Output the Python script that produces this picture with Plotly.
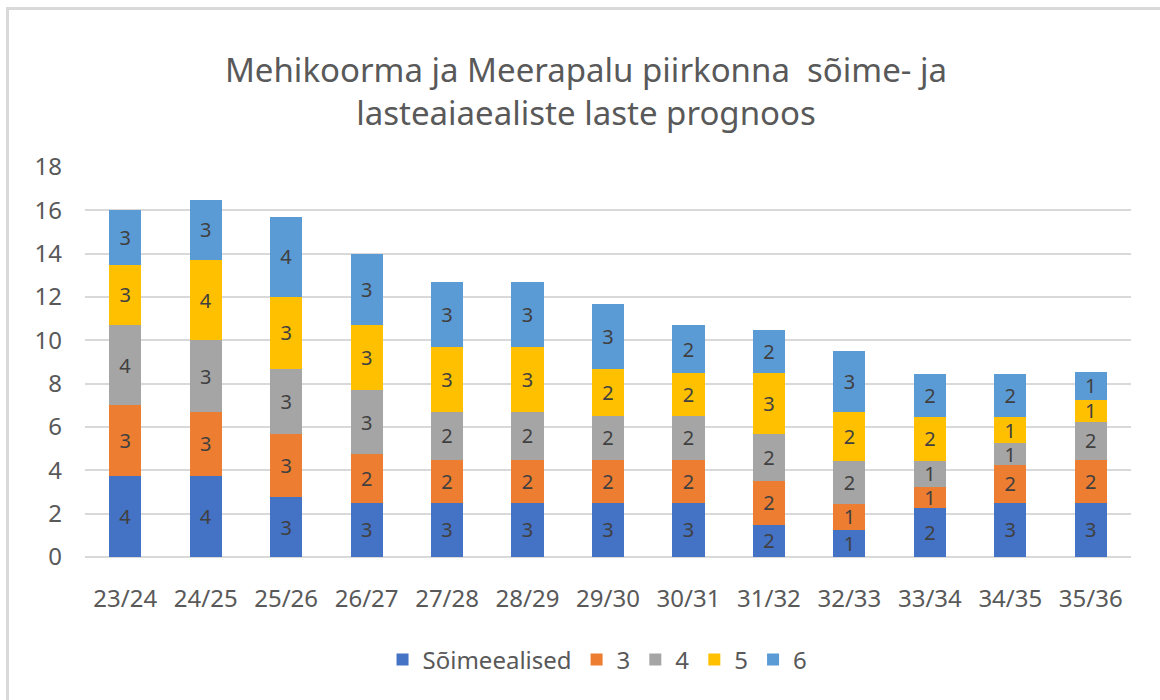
import plotly.graph_objects as go

categories = ["23/24", "24/25", "25/26", "26/27", "27/28", "28/29", "29/30",
              "30/31", "31/32", "32/33", "33/34", "34/35", "35/36"]
series_names = ["Sõimeealised", "3", "4", "5", "6"]
soimeealised = [3.75, 3.75, 2.75, 2.5, 2.5, 2.5, 2.5, 2.5, 1.5, 1.25, 2.25, 2.5, 2.5]
age3 = [3.25, 2.95, 2.95, 2.25, 2.0, 2.0, 2.0, 2.0, 2.0, 1.2, 1.0, 1.75, 2.0]
age4 = [3.7, 3.3, 3.0, 2.95, 2.2, 2.2, 2.0, 2.0, 2.2, 2.0, 1.2, 1.0, 1.75]
age5 = [2.8, 3.7, 3.3, 3.0, 3.0, 3.0, 2.2, 2.0, 2.8, 2.25, 2.0, 1.2, 1.0]
age6 = [2.5, 2.8, 3.7, 3.3, 3.0, 3.0, 3.0, 2.2, 2.0, 2.8, 2.0, 2.0, 1.3]
y_ticks = [0, 2, 4, 6, 8, 10, 12, 14, 16, 18]

colors = ["#4472C4", "#ED7D31", "#A5A5A5", "#FFC000", "#5B9BD5"]
series = [soimeealised, age3, age4, age5, age6]

FONT = "Noto Sans"
TXT = "#595959"

fig = go.Figure()
for name, vals, col in zip(series_names, series, colors):
    fig.add_trace(go.Bar(
        x=categories, y=vals, name=name,
        marker=dict(color=col, line=dict(width=0)),
        texttemplate="%{y:.0f}", textposition="inside", textangle=0,
        insidetextanchor="middle", constraintext="none",
        textfont=dict(family=FONT, size=20, color="#404040"),
        cliponaxis=False,
    ))

W, H = 1160, 700
L, R, T, B = 85, 29, 167, 143
pw, ph = W - L - R, H - T - B

def px(x):
    return (x - L) / pw

def py(y):
    return (H - B - y) / ph

fig.update_layout(
    barmode="stack",
    bargap=0.6,
    width=W, height=H,
    margin=dict(l=L, r=R, t=T, b=B),
    paper_bgcolor="white", plot_bgcolor="white",
    font=dict(family=FONT, color=TXT),
    title=dict(
        text="Mehikoorma ja Meerapalu piirkonna&nbsp; sõime- ja<br>lasteaiaealiste laste prognoos",
        x=586 / W, xanchor="center", xref="container",
        y=1 - 82 / H, yanchor="middle", yref="container",
        font=dict(family=FONT, size=33, color=TXT),
    ),
    xaxis=dict(
        tickfont=dict(family=FONT, size=24, color=TXT),
        showgrid=False, showline=False, zeroline=False, ticks="",
        ticklabelstandoff=25,
    ),
    yaxis=dict(
        range=[0, 18], tickvals=y_ticks,
        tickfont=dict(family=FONT, size=24, color=TXT),
        showgrid=True, gridcolor="#d9d9d9", gridwidth=2,
        zeroline=True, zerolinecolor="#d9d9d9", zerolinewidth=2,
        showline=False, ticks="", ticklabelstandoff=22,
    ),
    legend=dict(
        orientation="h", x=0.49, xanchor="center",
        y=py(660), yanchor="middle",
        font=dict(family=FONT, size=24, color=TXT),
        traceorder="normal", itemwidth=30,
    ),
    showlegend=True,
    shapes=[
        dict(type="line", xref="paper", yref="paper",
             x0=px(7.5), x1=px(7.5), y0=py(710), y1=py(8.5),
             line=dict(color="#d9d9d9", width=3)),
        dict(type="line", xref="paper", yref="paper",
             x0=px(6), x1=px(1170), y0=py(8.5), y1=py(8.5),
             line=dict(color="#d9d9d9", width=3)),
    ],
)

fig.write_html(
    "out.html",
    config={"displayModeBar": False},
    post_script="document.body.style.margin='0';document.body.style.overflow='hidden';",
)
